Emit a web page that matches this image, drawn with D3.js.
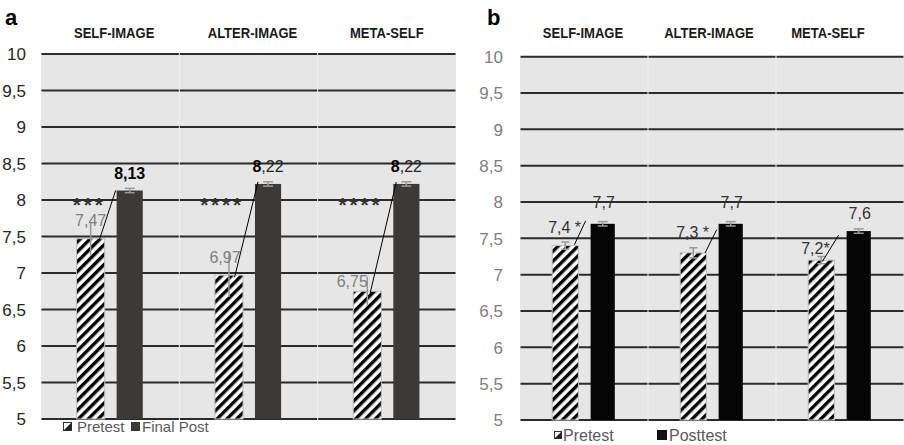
<!DOCTYPE html>
<html>
<head>
<meta charset="utf-8">
<script src="https://cdn.jsdelivr.net/npm/d3@7"></script>
<style>
  html, body { margin: 0; padding: 0; background: #fff; }
  svg { display: block; font-family: "Liberation Sans", Arial, sans-serif; }
</style>
</head>
<body>
<svg id="chart" width="904" height="445"></svg>
<script>
// ---------- DATA ----------
const categories = ["SELF-IMAGE", "ALTER-IMAGE", "META-SELF"];
const yTicks = [5, 5.5, 6, 6.5, 7, 7.5, 8, 8.5, 9, 9.5, 10];

// Panel a
const seriesA = ["Pretest", "Final Post"];
const pretestA = [7.47, 6.97, 6.75];
const postA = [8.13, 8.22, 8.22];
const pretestErrA = [0.23, 0.30, 0.20];
const postErrA = [0.03, 0.03, 0.03];
const pretestLabelsA = ["7,47", "6,97", "6,75"];
const postLabelsBoldA = ["8,13", "8", "8"];
const postLabelsRestA = ["", ",22", ",22"];
const starsA = ["***", "****", "****"];

// Panel b
const seriesB = ["Pretest", "Posttest"];
const pretestB = [7.4, 7.3, 7.2];
const postB = [7.7, 7.7, 7.6];
const pretestErrB = [0.05, 0.07, 0.05];
const postErrB = [0.03, 0.03, 0.03];
const pretestLabelsB = ["7,4 *", "7,3 *", "7,2*"];
const postLabelsB = ["7,7", "7,7", "7,6"];

const fmt = d => String(d).replace(".", ",");

const svg = d3.select("#chart");
const defs = svg.append("defs");
const pat = defs.append("pattern")
  .attr("id", "hatch").attr("patternUnits", "userSpaceOnUse")
  .attr("width", 7).attr("height", 7)
  .attr("patternTransform", "rotate(45)");
pat.append("rect").attr("width", 7).attr("height", 7).attr("fill", "#fff");
pat.append("rect").attr("width", 3.4).attr("height", 7).attr("fill", "#000");

function drawPanel(cfg) {
  const g = svg.append("g");
  const x = d3.scaleBand().domain(categories).range([cfg.left, cfg.right]).padding(0);
  const xs = d3.scaleBand().domain(cfg.series).range([0, x.bandwidth()])
    .paddingInner(cfg.pIn).paddingOuter(cfg.pOut);
  const y = d3.scaleLinear().domain([5, 10]).range([cfg.bottom, cfg.top]);

  g.append("rect").attr("x", cfg.left).attr("y", y(10))
    .attr("width", cfg.right - cfg.left).attr("height", y(5) - y(10))
    .attr("fill", "#e6e6e6");
  g.selectAll(".div").data(categories.slice(1)).join("line")
    .attr("x1", d => x(d)).attr("x2", d => x(d))
    .attr("y1", y(10)).attr("y2", y(5))
    .attr("stroke", "#f2f2f2").attr("stroke-width", 1);
  categories.forEach(c => {
    g.selectAll(null).data(yTicks).join("line")
      .attr("x1", x(c) + 0.5).attr("x2", x(c) + x.bandwidth() - 0.5)
      .attr("y1", d => y(d)).attr("y2", d => y(d))
      .attr("stroke", cfg.gridColor).attr("stroke-width", 2);
  });

  const yAxis = d3.axisLeft(y).tickValues(yTicks).tickFormat(fmt).tickSize(0).tickPadding(0);
  const ax = g.append("g").attr("transform", `translate(${cfg.tickX},0)`).call(yAxis);
  ax.attr("font-size", 17).attr("font-family", "Liberation Sans, Arial, sans-serif");
  ax.select(".domain").remove();
  ax.selectAll("text").attr("font-size", 17).attr("fill", cfg.tickColor).attr("dy", "0.35em");

  g.selectAll(".hdr").data(categories).join("text")
    .attr("x", (d, i) => x(d) + x.bandwidth() / 2 + cfg.hdrDx[i]).attr("y", 38)
    .attr("text-anchor", "middle").attr("font-weight", "bold")
    .attr("font-size", 15).attr("fill", "#1a1a1a")
    .attr("transform", (d, i) => { const cx = x(d) + x.bandwidth() / 2 + cfg.hdrDx[i]; return `translate(${cx},0) scale(0.87,1) translate(${-cx},0)`; })
    .text(d => d);

  g.append("text").attr("x", cfg.letterX).attr("y", 25).attr("font-size", 22)
    .attr("font-weight", "bold").attr("fill", "#000").text(cfg.letter);

  const xp = i => x(categories[i]) + xs(cfg.series[0]);
  const xq = i => x(categories[i]) + xs(cfg.series[1]);
  const bw = xs.bandwidth();

  g.selectAll(".pre").data(cfg.pre).join("rect")
    .attr("x", (d, i) => xp(i)).attr("y", d => y(d))
    .attr("width", bw).attr("height", d => y(5) - y(d))
    .attr("fill", "url(#hatch)").attr("stroke", "#bfbfbf").attr("stroke-width", 1);
  g.selectAll(".post").data(cfg.post).join("rect")
    .attr("x", (d, i) => xq(i) + 1).attr("y", d => y(d))
    .attr("width", bw - 2).attr("height", d => y(5) - y(d))
    .attr("fill", cfg.postColor);

  const eb = (vals, errs, xf, capW, sw) => {
    vals.forEach((v, i) => {
      const cx = xf(i) + bw / 2;
      g.append("line").attr("x1", cx).attr("x2", cx).attr("y1", y(v - errs[i])).attr("y2", y(v + errs[i]))
        .attr("stroke", "#999").attr("stroke-width", sw);
      [v - errs[i], v + errs[i]].forEach(e =>
        g.append("line").attr("x1", cx - capW).attr("x2", cx + capW).attr("y1", y(e)).attr("y2", y(e))
          .attr("stroke", "#999").attr("stroke-width", 1.5));
    });
  };
  eb(cfg.pre, cfg.preErr, xp, cfg.preCap, cfg.preErrW);
  eb(cfg.post, cfg.postErr, i => xq(i), 5, 1.5);

  return { g, x, xs, y, xp, xq, bw };
}

// ---------- Panel a ----------
const A = drawPanel({
  left: 41, right: 456, top: 54, bottom: 419, tickX: 26,
  series: seriesA, pIn: 0.28, pOut: 0.91,
  pre: pretestA, post: postA, preErr: pretestErrA, postErr: postErrA,
  preCap: 0, preErrW: 1.5,
  postColor: "#3b3a38", gridColor: "#2b2b2b", tickColor: "#262626",
  letter: "a", letterX: 5, hdrDx: [4, 4, 0]
});
A.g.selectAll(".stars").data(starsA).join("text")
  .attr("x", (d, i) => A.xp(i) + A.bw + 1).attr("y", A.y(8) + 12)
  .attr("text-anchor", "end").attr("font-size", 21).attr("font-weight", "bold")
  .attr("letter-spacing", 2.8).attr("fill", "#333").text(d => d);
pretestA.forEach((v, i) => {
  const post = postA[i];
  A.g.append("line")
    .attr("x1", A.xq(i) + (i === 0 ? 0 : 4)).attr("y1", A.y(post) - (i === 0 ? 0 : 2))
    .attr("x2", A.xp(i) + A.bw * (i === 0 ? 0.8 : (i === 1 ? 0.7 : 0.6))).attr("y2", A.y(v) + 2)
    .attr("stroke", "#000").attr("stroke-width", 1);
});
A.g.selectAll(".plab").data(pretestA).join("text")
  .attr("x", (d, i) => A.xp(i) + A.bw / 2 + [0, -4, -15][i]).attr("y", (d, i) => A.y(d) - [13, 12, 4.5][i])
  .attr("text-anchor", "middle").attr("font-size", 16).attr("fill", "#7f7f7f")
  .text((d, i) => pretestLabelsA[i]);
postA.forEach((v, i) => {
  const t = A.g.append("text")
    .attr("x", A.xq(i) + A.bw / 2).attr("y", A.y(v) - 12)
    .attr("text-anchor", "middle").attr("font-size", 16).attr("fill", "#000");
  t.append("tspan").attr("font-weight", "bold").text(postLabelsBoldA[i]);
  t.append("tspan").attr("fill", "#262626").text(postLabelsRestA[i]);
});

const legA = svg.append("g");
legA.append("rect").attr("x", 63.5).attr("y", 422.5).attr("width", 8).attr("height", 8)
  .attr("fill", "#fff").attr("stroke", "#333");
legA.append("path").attr("d", "M71.5,422.5 L71.5,430.5 L63.5,430.5 Z").attr("fill", "#222");
legA.append("text").attr("x", 77).attr("y", 432).attr("font-size", 15).attr("fill", "#595959").text(seriesA[0]);
legA.append("rect").attr("x", 131).attr("y", 422).attr("width", 9).attr("height", 9).attr("fill", "#3b3a38");
legA.append("text").attr("x", 142).attr("y", 432).attr("font-size", 15).attr("fill", "#595959").text(seriesA[1]);

// ---------- Panel b ----------
const B = drawPanel({
  left: 520, right: 904, top: 56.7, bottom: 420, tickX: 503,
  series: seriesB, pIn: 0.3, pOut: 0.86,
  pre: pretestB, post: postB, preErr: pretestErrB, postErr: postErrB,
  preCap: 4, preErrW: 1.5,
  postColor: "#050505", gridColor: "#2b2b2b", tickColor: "#7f7f7f",
  letter: "b", letterX: 487, hdrDx: [-1, -3, -12]
});
pretestB.forEach((v, i) => {
  B.g.append("line")
    .attr("x1", B.xq(i) - [4, 1, 7][i]).attr("y1", B.y(postB[i]) + [-3, 6, 4][i])
    .attr("x2", B.xp(i) + B.bw * [0.85, 0.95, 0.55][i]).attr("y2", B.y(v) - [1, 0, -1][i])
    .attr("stroke", "#000").attr("stroke-width", 1);
});
B.g.selectAll(".plab").data(pretestB).join("text")
  .attr("x", (d, i) => B.xp(i) + [-4, -4, -7][i]).attr("y", (d, i) => B.y(d) - [13, 15, 6][i])
  .attr("font-size", 16).attr("fill", "#333")
  .text((d, i) => pretestLabelsB[i]);
B.g.selectAll(".qlab").data(postB).join("text")
  .attr("x", (d, i) => B.xq(i) + B.bw / 2 + 1).attr("y", (d, i) => B.y(d) - [16, 16, 12][i])
  .attr("text-anchor", "middle").attr("font-size", 16).attr("fill", "#333")
  .text((d, i) => postLabelsB[i]);

const legB = svg.append("g");
legB.append("rect").attr("x", 554.5).attr("y", 431.5).attr("width", 7).attr("height", 7)
  .attr("fill", "#fff").attr("stroke", "#333");
legB.append("path").attr("d", "M561.5,431.5 L561.5,438.5 L554.5,438.5 Z").attr("fill", "#222");
legB.append("text").attr("x", 563).attr("y", 441).attr("font-size", 16).attr("fill", "#595959").text(seriesB[0]);
legB.append("rect").attr("x", 657).attr("y", 430).attr("width", 10).attr("height", 10).attr("fill", "#111");
legB.append("text").attr("x", 669).attr("y", 441).attr("font-size", 16).attr("fill", "#595959").text(seriesB[1]);
</script>
</body>
</html>
